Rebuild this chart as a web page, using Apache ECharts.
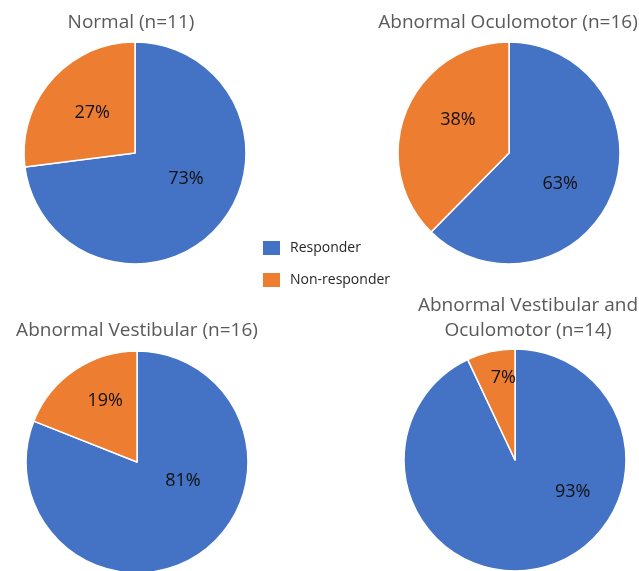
<!DOCTYPE html>
<html>
<head>
<meta charset="utf-8">
<script src="https://cdn.jsdelivr.net/npm/echarts@6/dist/echarts.min.js"></script>
<style>
  html, body { margin: 0; padding: 0; background: #fff; }
  #chart { width: 639px; height: 571px; }
</style>
</head>
<body>
<div id="chart"></div>
<script>
// Treatment response by exam finding (percent of each group)
const groups = [
  'Normal (n=11)',
  'Abnormal Oculomotor (n=16)',
  'Abnormal Vestibular (n=16)',
  'Abnormal Vestibular and\nOculomotor (n=14)'
];
const categories = ['Responder', 'Non-responder'];
const responder = [73, 63, 81, 93];
const nonResponder = [27, 38, 19, 7];

// Layout: pie centres, title anchors and small label nudges [dx, dy]
const centers = [[135, 153], [509, 153], [137, 462], [515, 460]];
const titleAnchors = [[131, 10], [508, 10], [137, 318], [528, 293]];
const nudges = [
  [[7, -13], [1, -1]],
  [[-3, 9], [3, -11]],
  [[13, -30], [1, -13]],
  [[45, -25], [1, -25]]
];
const colors = ['#4472C4', '#ED7D31'];
const FONT = '"Open Sans", "Noto Sans", sans-serif';
const LABEL_LINE = 22;

// Horizontal nudge: pad one side of the centred label box
function sidePadding(dx) {
  return [0, dx < 0 ? -2 * dx : 0, 0, dx > 0 ? 2 * dx : 0];
}

// Vertical nudge: a blank spacer line above or below the value line
function nudgedLabel(value, dy) {
  const gap = Math.max(1, Math.round(Math.abs(dy) * 2));
  const spacer = '{g| }';
  const text = '{v|' + value + '%}';
  return {
    formatter: dy < 0 ? text + '\n' + spacer : spacer + '\n' + text,
    rich: {
      v: { fontFamily: FONT, fontSize: 18, color: '#111111', lineHeight: LABEL_LINE },
      g: { fontSize: 1, lineHeight: gap }
    }
  };
}

const chart = echarts.init(document.getElementById('chart'), null, { renderer: 'canvas' });

const titles = groups.map((g, i) => ({
  text: g,
  left: titleAnchors[i][0],
  top: titleAnchors[i][1],
  textAlign: 'center',
  padding: 0,
  textStyle: {
    fontFamily: FONT,
    fontSize: 19,
    fontWeight: 'normal',
    color: '#595959',
    lineHeight: 25
  }
}));

const series = groups.map((g, i) => {
  const vals = [responder[i], nonResponder[i]];
  return {
    type: 'pie',
    name: g,
    center: centers[i],
    radius: 111,
    startAngle: 90,
    clockwise: true,
    animation: false,
    avoidLabelOverlap: false,
    itemStyle: { borderColor: '#ffffff', borderWidth: 1.5 },
    emphasis: { disabled: true },
    label: {
      show: true,
      position: 'inside',
      fontFamily: FONT,
      fontSize: 18,
      color: '#111111'
    },
    labelLine: { show: false },
    data: categories.map((c, k) => {
      const nd = nudges[i][k];
      return {
        name: c,
        value: vals[k],
        itemStyle: { color: colors[k] },
        label: Object.assign({ padding: sidePadding(nd[0]) }, nudgedLabel(vals[k], nd[1]))
      };
    })
  };
});

chart.setOption({
  backgroundColor: '#ffffff',
  color: colors,
  title: titles,
  legend: {
    orient: 'vertical',
    left: 261,
    top: 239,
    padding: 0,
    itemWidth: 19,
    itemHeight: 16,
    itemGap: 14,
    icon: 'rect',
    selectedMode: false,
    data: categories,
    textStyle: {
      fontFamily: FONT,
      fontSize: 14,
      color: '#262626',
      padding: [0, 0, 0, 4]
    }
  },
  series: series
});
</script>
</body>
</html>
